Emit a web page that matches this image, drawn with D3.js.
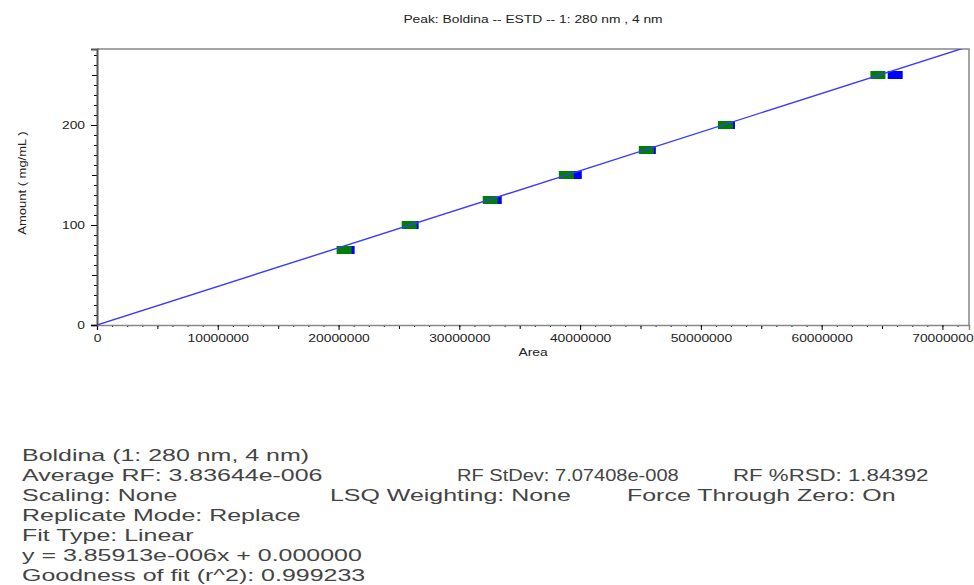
<!DOCTYPE html>
<html lang="en">
<head>
    <meta charset="UTF-8">
    <title>Peak: Boldina - ESTD</title>
    <script src="https://d3js.org/d3.v7.min.js"></script>
    <style>
        body { margin: 0; background: #fff; }
        svg { display: block; }
        .tick text { font-family: "Liberation Sans", Arial, sans-serif; font-size: 10px; fill: #222; }
        .lbl { font-family: "Liberation Sans", Arial, sans-serif; fill: #222; }
        .info { font-family: "Liberation Sans", Arial, sans-serif; font-size: 17px; fill: #444; }
    </style>
</head>
<body>
<svg id="chart" width="974" height="585"></svg>
<script>
    // calibration levels (mg/mL) and peak areas of the two replicates
    var levels = [75, 100, 125, 150, 175, 200, 250];
    var areaRep1 = [20.46e6, 25.85e6, 32.56e6, 38.86e6, 45.48e6, 52.03e6, 64.66e6];
    var areaRep2 = [20.71e6, 26.01e6, 32.89e6, 39.52e6, 45.65e6, 52.20e6, 66.09e6];

    // fitted line y = slope*x + intercept
    var slope = 3.85913e-6, intercept = 0;

    var xTicks = [0, 10e6, 20e6, 30e6, 40e6, 50e6, 60e6, 70e6];
    var yTicks = [0, 100, 200];

    var title = "Peak: Boldina -- ESTD -- 1: 280 nm , 4 nm";
    var xTitle = "Area";
    var yTitle = "Amount ( mg/mL )";

    var summaryRows = [
        ["Boldina (1: 280 nm, 4 nm)"],
        ["Average RF: 3.83644e-006", "RF StDev: 7.07408e-008", "RF %RSD: 1.84392"],
        ["Scaling: None", "LSQ Weighting: None", "Force Through Zero: On"],
        ["Replicate Mode: Replace"],
        ["Fit Type: Linear"],
        ["y = 3.85913e-006x + 0.000000"],
        ["Goodness of fit (r^2): 0.999233"]
    ];

    var svg = d3.select("#chart");
    var pLeft = 97, pRight = 969, pTop = 49, pBottom = 325;
    var xMax = 72.2e6, yMax = 276;

    var x = d3.scaleLinear().domain([0, xMax]).range([pLeft, pRight]);
    var y = d3.scaleLinear().domain([0, yMax]).range([pBottom, pTop]);

    var sx = 1.38; // the source image is stretched horizontally

    // frame (top and right)
    svg.append("path")
        .attr("d", "M" + pLeft + "," + pTop + "H" + pRight + "V" + pBottom)
        .attr("fill", "none").attr("stroke", "#888").attr("stroke-width", 1.5);

    // minor ticks
    var xMinor = d3.range(0, 72e6, 1.25e6);
    var xMid = d3.range(5e6, 72e6, 10e6);
    svg.append("g").attr("transform", "translate(0," + pBottom + ")")
        .call(d3.axisBottom(x).tickValues(xMinor).tickSize(2).tickFormat(""))
        .call(g => g.select(".domain").remove());
    svg.append("g").attr("transform", "translate(0," + pBottom + ")")
        .call(d3.axisBottom(x).tickValues(xMid).tickSize(4).tickFormat(""))
        .call(g => g.select(".domain").remove());
    var yMinor = d3.range(0, 276, 10);
    var yMid = [50, 150, 250];
    svg.append("g").attr("transform", "translate(" + pLeft + ",0)")
        .call(d3.axisLeft(y).tickValues(yMinor).tickSize(3).tickFormat(""))
        .call(g => g.select(".domain").remove());
    svg.append("g").attr("transform", "translate(" + pLeft + ",0)")
        .call(d3.axisLeft(y).tickValues(yMid).tickSize(5).tickFormat(""))
        .call(g => g.select(".domain").remove());

    // major axes
    var xAxis = svg.append("g").attr("transform", "translate(0," + pBottom + ")")
        .call(d3.axisBottom(x).tickValues(xTicks).tickSize(5).tickPadding(5).tickFormat(d3.format("d")));
    xAxis.select(".domain").attr("stroke", "#888").attr("stroke-width", 1.5);
    xAxis.selectAll(".tick text").attr("transform", "scale(" + sx + ",1)");

    var yAxis = svg.append("g").attr("transform", "translate(" + pLeft + ",0)")
        .call(d3.axisLeft(y).tickValues(yTicks).tickSize(6).tickPadding(6).tickFormat(d3.format("d")));
    yAxis.select(".domain").attr("stroke", "#555").attr("stroke-width", 2);
    yAxis.selectAll(".tick text")
        .attr("x", -12 / sx)
        .attr("transform", "scale(" + sx + ",1)");

    // clip area for the fitted line
    svg.append("clipPath").attr("id", "clip")
        .append("rect").attr("x", pLeft).attr("y", pTop)
        .attr("width", pRight - pLeft).attr("height", pBottom - pTop);

    // replicate markers (blue behind, green on top)
    var mw = 15, mh = 8;
    svg.append("g").selectAll("rect")
        .data(levels)
        .join("rect")
        .attr("x", (d, i) => x(areaRep2[i]) - mw / 2)
        .attr("y", d => y(d) - mh / 2)
        .attr("width", mw).attr("height", mh)
        .attr("fill", "#0000ff");
    svg.append("g").selectAll("rect")
        .data(levels)
        .join("rect")
        .attr("x", (d, i) => x(areaRep1[i]) - mw / 2)
        .attr("y", d => y(d) - mh / 2)
        .attr("width", mw).attr("height", mh)
        .attr("fill", "#008000");

    svg.append("line")
        .attr("clip-path", "url(#clip)")
        .attr("x1", x(0)).attr("y1", y(intercept))
        .attr("x2", x(xMax)).attr("y2", y(slope * xMax + intercept))
        .attr("stroke", "#3a3aff").attr("stroke-width", 1.4);

    // titles
    svg.append("text").attr("class", "lbl")
        .attr("transform", "translate(533,23) scale(" + sx + ",1)")
        .attr("text-anchor", "middle").style("font-size", "10px")
        .text(title);
    svg.append("text").attr("class", "lbl")
        .attr("transform", "translate(533,356) scale(" + sx + ",1)")
        .attr("text-anchor", "middle").style("font-size", "10px")
        .text(xTitle);
    svg.append("text").attr("class", "lbl")
        .attr("transform", "translate(26,183) rotate(-90) scale(1.3,1)")
        .attr("text-anchor", "middle").style("font-size", "10px")
        .text(yTitle);

    // summary block
    var colX = [[22], [22, 457, 733], [22, 330, 627], [22], [22], [22], [22]];
    var colS = [[1.468], [1.468, 1.18, 1.31], [1.468, 1.468, 1.468], [1.468], [1.468], [1.468], [1.468]];
    summaryRows.forEach(function(row, r) {
        row.forEach(function(t, c) {
            svg.append("text").attr("class", "info")
                .attr("transform", "translate(" + colX[r][c] + "," + (461 + r * 20) + ") scale(" + colS[r][c] + ",1)")
                .text(t);
        });
    });
</script>
</body>
</html>
